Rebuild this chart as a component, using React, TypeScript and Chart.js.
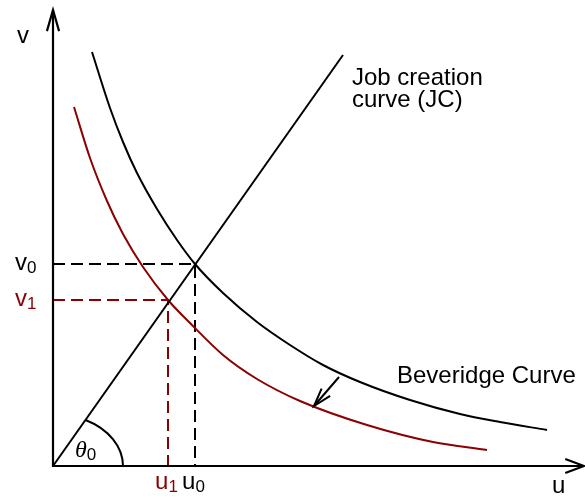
import React, { useEffect, useRef } from "react";
import { Chart, registerables } from "chart.js";

Chart.register(...registerables);

// ---- data (abstract units) ----
const xMax = 10.62;
const yMax = 9.12;

// Job creation curve (straight line through origin)
const jcU = [0, 5.8];
const jcV = [0, 8.22];

// Original Beveridge curve
const bcU = [0.78, 1.14, 1.4, 1.68, 2.08, 2.48, 2.84, 3.4, 4.08, 4.74, 5.4, 6.14, 7.14, 8.14, 8.94, 9.88];
const bcV = [8.28, 7.16, 6.48, 5.86, 5.14, 4.52, 4.04, 3.46, 2.88, 2.42, 2.02, 1.68, 1.32, 1.04, 0.88, 0.72];

// Shifted Beveridge curve
const bc1U = [0.42, 0.74, 1.08, 1.4, 1.8, 2.3, 2.74, 3.4, 4.08, 4.94, 6.28, 7.6, 8.68];
const bc1V = [7.18, 6.16, 5.3, 4.64, 3.98, 3.32, 2.86, 2.22, 1.74, 1.3, 0.82, 0.48, 0.32];

// Equilibria
const u0 = 2.84;
const v0 = 4.04;
const u1 = 2.3;
const v1 = 3.32;

// Shift arrow (from old curve to new curve)
const shiftU = [5.72, 5.22];
const shiftV = [1.78, 1.2];

// theta arc radii
const arcRx = 1.4;
const arcRy = 1.04;

// texts
const axisNames = ["u", "v"];
const jcLabel = ["Job creation", "curve (JC)"];
const bcLabel = "Beveridge Curve";
const subs = ["0", "1"];

const RED = "#8b0000";
const SANS = '"Liberation Sans", Arial, sans-serif';

const pts = (xs: number[], ys: number[]) => xs.map((x, i) => ({ x, y: ys[i] }));

function arrowHead(ctx: CanvasRenderingContext2D, tx: number, ty: number, fx: number, fy: number, len: number, ang: number) {
  const a = Math.atan2(fy - ty, fx - tx);
  ctx.beginPath();
  ctx.moveTo(tx + len * Math.cos(a + ang), ty + len * Math.sin(a + ang));
  ctx.lineTo(tx, ty);
  ctx.lineTo(tx + len * Math.cos(a - ang), ty + len * Math.sin(a - ang));
  ctx.stroke();
}

function subLabel(ctx: CanvasRenderingContext2D, main: string, sub: string, x: number, base: number, color: string, center: boolean, mainFont = `24px ${SANS}`) {
  ctx.font = mainFont;
  const w1 = ctx.measureText(main).width;
  ctx.font = `17px ${SANS}`;
  const w2 = ctx.measureText(sub).width;
  const left = center ? x - (w1 + w2) / 2 : x;
  ctx.fillStyle = color;
  ctx.textAlign = "left";
  ctx.textBaseline = "alphabetic";
  ctx.font = mainFont;
  ctx.fillText(main, left, base);
  ctx.font = `17px ${SANS}`;
  ctx.fillText(sub, left + w1, base + 3);
}

const annotPlugin = {
  id: "annot",
  afterDatasetsDraw(chart: any) {
    const { ctx, scales } = chart;
    const xs = scales.x;
    const ys = scales.y;
    const px = (v: number) => xs.getPixelForValue(v);
    const py = (v: number) => ys.getPixelForValue(v);
    const ox = px(0);
    const oy = py(0);
    ctx.save();
    ctx.strokeStyle = "#000";
    ctx.lineWidth = 2.2;
    ctx.lineCap = "butt";
    ctx.lineJoin = "miter";

    // axes
    ctx.beginPath();
    ctx.moveTo(ox, py(yMax));
    ctx.lineTo(ox, oy);
    ctx.lineTo(px(xMax), oy);
    ctx.stroke();
    arrowHead(ctx, ox, py(yMax), ox, oy, 22, 0.28);
    arrowHead(ctx, px(xMax), oy, ox, oy, 20, 0.36);

    // theta arc
    ctx.lineWidth = 2;
    const phi = Math.atan2(py(0) - py(jcV[1]), px(jcU[1]) - px(0));
    const rx = px(arcRx) - ox;
    const ry = oy - py(arcRy);
    const t = Math.atan((rx / ry) * Math.tan(phi));
    ctx.beginPath();
    ctx.ellipse(ox, oy, rx, ry, 0, -t, 0, false);
    ctx.stroke();

    // shift arrow
    const fx = px(shiftU[0]), fy = py(shiftV[0]);
    const tx = px(shiftU[1]), ty = py(shiftV[1]);
    ctx.beginPath();
    ctx.moveTo(fx, fy);
    ctx.lineTo(tx, ty);
    ctx.stroke();
    arrowHead(ctx, tx, ty, fx, fy, 19, 0.3);

    // texts
    ctx.fillStyle = "#000";
    ctx.font = `24px ${SANS}`;
    ctx.textAlign = "left";
    ctx.textBaseline = "alphabetic";
    ctx.fillText(axisNames[1], 17, 43);
    ctx.fillText(axisNames[0], 552, oy + 27);
    ctx.fillText(jcLabel[0], 352, 85);
    ctx.fillText(jcLabel[1], 352, 107);
    ctx.fillText(bcLabel, 397, 383);

    subLabel(ctx, axisNames[1], subs[0], 15, py(v0) + 6, "#000", false);
    subLabel(ctx, axisNames[1], subs[1], 15, py(v1) + 6, RED, false);
    subLabel(ctx, axisNames[0], subs[0], px(u0) - 1.5, oy + 23, "#000", true);
    subLabel(ctx, axisNames[0], subs[1], px(u1) - 1.5, oy + 23, RED, true);
    subLabel(ctx, "\u03B8", subs[0], ox + 22, oy - 9, "#000", false, `italic 24px "Liberation Serif", serif`);

    ctx.restore();
  },
};

export default function App() {
  const ref = useRef<HTMLCanvasElement | null>(null);
  useEffect(() => {
    if (!ref.current) return;
    const common = { pointRadius: 0, borderWidth: 2, fill: false, clip: false as any };
    const chart = new Chart(ref.current, {
      type: "line",
      data: {
        datasets: [
          { ...common, data: pts(jcU, jcV), borderColor: "#000" },
          { ...common, data: pts(bcU, bcV), borderColor: "#000", cubicInterpolationMode: "monotone" },
          { ...common, data: pts(bc1U, bc1V), borderColor: RED, cubicInterpolationMode: "monotone" },
          { ...common, data: [{ x: 0, y: v0 }, { x: u0, y: v0 }, { x: u0, y: 0 }], borderColor: "#000", borderDash: [12, 6] },
          { ...common, data: [{ x: 0, y: v1 }, { x: u1, y: v1 }, { x: u1, y: 0 }], borderColor: RED, borderDash: [12, 6] },
        ] as any,
      },
      options: {
        animation: false,
        responsive: false,
        devicePixelRatio: 1,
        layout: { padding: { left: 53, right: 1, top: 10, bottom: 36 } },
        plugins: { legend: { display: false }, tooltip: { enabled: false } },
        scales: {
          x: { type: "linear", min: 0, max: xMax, display: false },
          y: { type: "linear", min: 0, max: yMax, display: false },
        },
      },
      plugins: [annotPlugin],
    });
    return () => chart.destroy();
  }, []);
  return (
    <div style={{ position: "absolute", left: 0, top: 0, width: 585, height: 502, background: "#fff" }}>
      <canvas ref={ref} width={585} height={502} />
    </div>
  );
}
